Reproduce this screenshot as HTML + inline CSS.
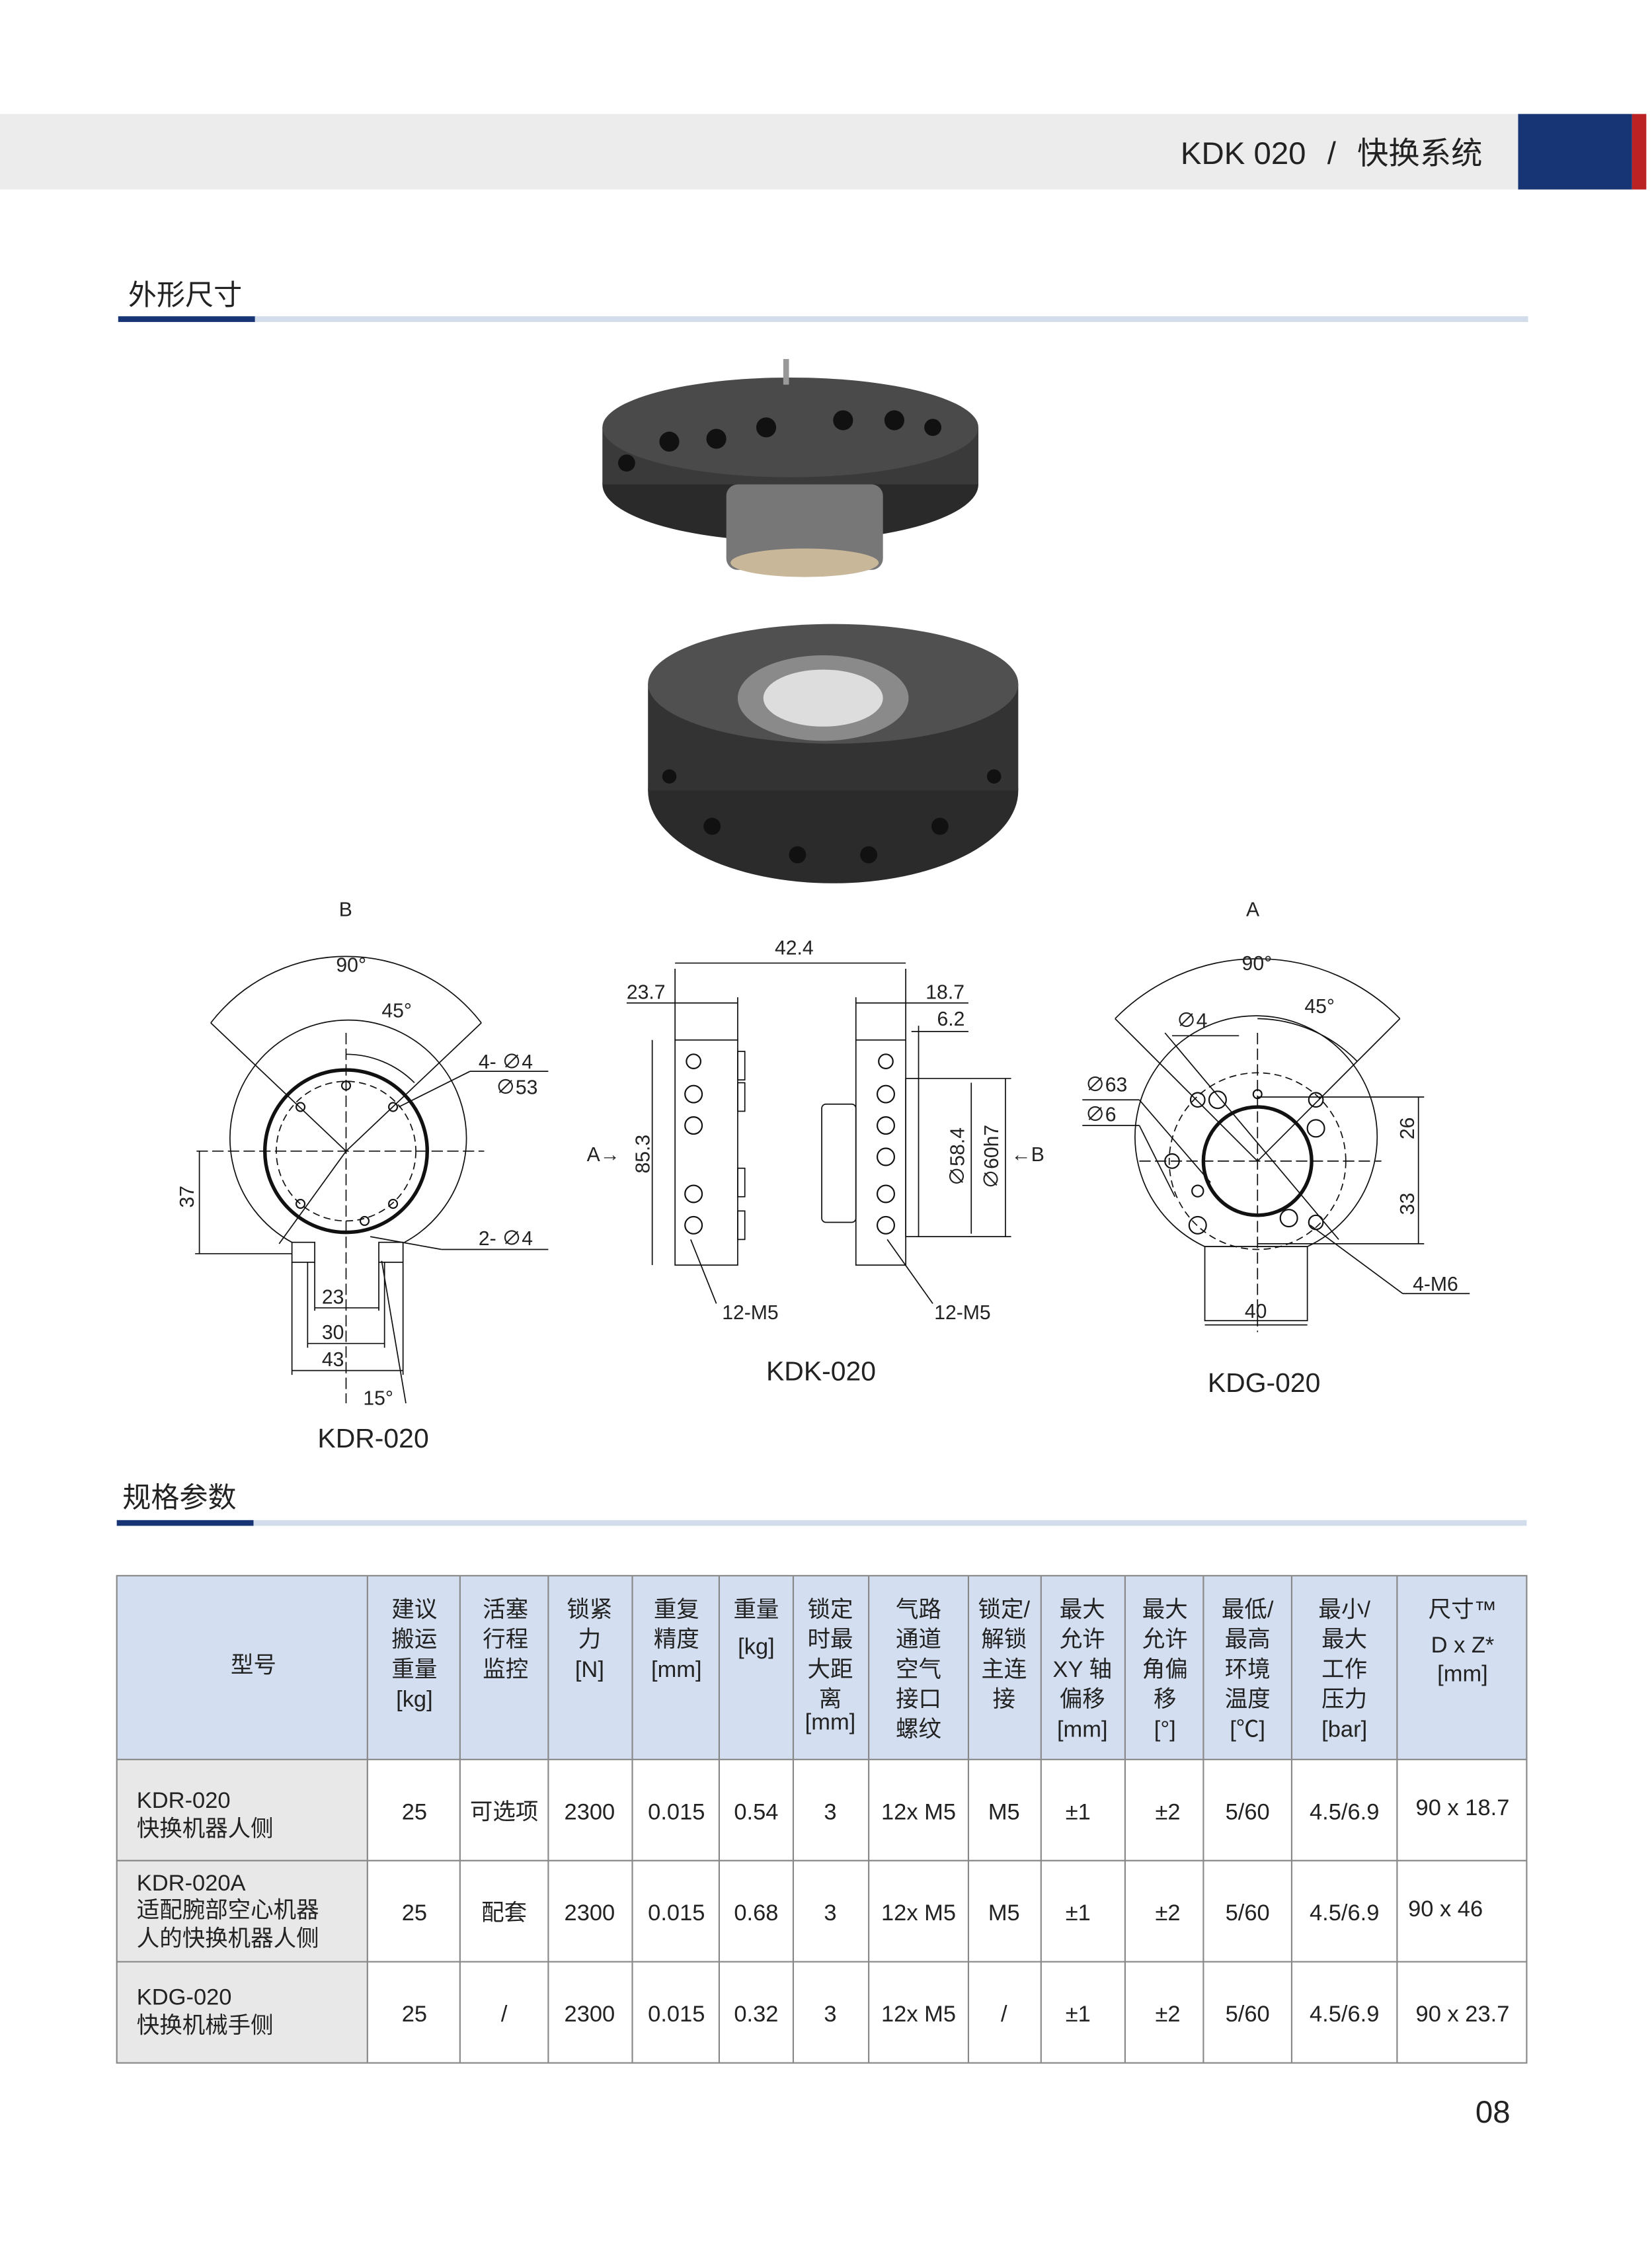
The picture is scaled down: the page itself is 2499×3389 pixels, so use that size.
<!DOCTYPE html>
<html><head><meta charset="utf-8">
<style>
html,body{margin:0;padding:0;background:#fff;}
svg{display:block;}
text{font-family:"Liberation Sans","Noto Sans CJK SC",sans-serif;fill:#222;}
</style></head><body>
<svg width="2499" height="3389" viewBox="0 0 1160 1573" preserveAspectRatio="none" xmlns="http://www.w3.org/2000/svg">
<rect width="1160" height="1573" fill="#fff"/>
<!-- header -->
<rect x="0" y="80" width="1066" height="53" fill="#ececec"/>
<rect x="1066" y="80" width="80" height="53" fill="#173574"/>
<rect x="1146" y="80" width="10" height="53" fill="#bb2224"/>
<text x="829" y="115" font-size="22">KDK 020</text>
<text x="932" y="115" font-size="22">/</text>
<text x="953" y="115" font-size="22">快换系统</text>
<!-- section 1 -->
<text x="90" y="214" font-size="20">外形尺寸</text>
<rect x="83" y="222" width="990" height="4" fill="#d3dcea"/>
<rect x="83" y="222" width="96" height="4" fill="#173574"/>
<!-- product images -->
<g>
<ellipse cx="555" cy="340" rx="132" ry="40" fill="#2a2a2a"/>
<rect x="423" y="300" width="264" height="40" fill="#3a3a3a"/>
<ellipse cx="555" cy="300" rx="132" ry="35" fill="#4a4a4a"/>
<rect x="510" y="340" width="110" height="60" rx="8" fill="#777"/>
<ellipse cx="565" cy="395" rx="52" ry="10" fill="#c9b79a"/>
<g fill="#111"><circle cx="470" cy="310" r="7"/><circle cx="503" cy="308" r="7"/><circle cx="538" cy="300" r="7"/><circle cx="592" cy="295" r="7"/><circle cx="628" cy="295" r="7"/><circle cx="655" cy="300" r="6"/><circle cx="440" cy="325" r="6"/></g>
<rect x="550" y="252" width="4" height="18" fill="#999"/>
<ellipse cx="585" cy="555" rx="130" ry="65" fill="#2b2b2b"/>
<rect x="455" y="480" width="260" height="75" fill="#333"/>
<ellipse cx="585" cy="480" rx="130" ry="42" fill="#505050"/>
<ellipse cx="578" cy="490" rx="60" ry="30" fill="#8a8a8a"/>
<ellipse cx="578" cy="490" rx="42" ry="20" fill="#ddd"/>
<g fill="#111"><circle cx="470" cy="545" r="5"/><circle cx="500" cy="580" r="6"/><circle cx="560" cy="600" r="6"/><circle cx="610" cy="600" r="6"/><circle cx="660" cy="580" r="6"/><circle cx="698" cy="545" r="5"/></g>
</g>
<!-- drawings -->
<g fill="none" stroke="#111" stroke-width="0.8">
<!-- KDR -->
<path d="M205 872 A83 83 0 1 1 284 872"/>
<circle cx="243" cy="808" r="57" stroke-width="2.5"/>
<circle cx="243" cy="808" r="49" stroke-dasharray="5 3"/>
<rect x="205" y="872" width="16" height="14"/><rect x="266" y="872" width="17" height="14"/>
<line x1="243" y1="725" x2="243" y2="985" stroke-dasharray="8 3"/>
<line x1="138" y1="808" x2="340" y2="808" stroke-dasharray="8 3"/>
<path d="M148 718 A120 120 0 0 1 338 718"/>
<path d="M243 740 A68 68 0 0 1 291 760"/>
<line x1="243" y1="808" x2="148" y2="718"/><line x1="243" y1="808" x2="338" y2="718"/>
<line x1="243" y1="808" x2="196" y2="873"/>
<line x1="280" y1="777" x2="330" y2="752"/><line x1="330" y1="752" x2="385" y2="752"/>
<line x1="260" y1="868" x2="310" y2="877"/><line x1="310" y1="877" x2="385" y2="877"/>
<line x1="140" y1="808" x2="140" y2="880"/><line x1="137" y1="880" x2="205" y2="880"/>
<line x1="205" y1="886" x2="205" y2="965"/><line x1="283" y1="886" x2="283" y2="965"/>
<line x1="216" y1="886" x2="216" y2="946"/><line x1="270" y1="886" x2="270" y2="946"/>
<line x1="221" y1="886" x2="221" y2="920"/><line x1="266" y1="886" x2="266" y2="920"/>
<line x1="221" y1="918" x2="266" y2="918"/><line x1="216" y1="943" x2="270" y2="943"/><line x1="205" y1="962" x2="283" y2="962"/>
<line x1="268" y1="885" x2="285" y2="985"/>
<!-- KDK -->
<rect x="474" y="730" width="44" height="158"/>
<rect x="518" y="738" width="5" height="20"/><rect x="518" y="760" width="5" height="20"/><rect x="518" y="820" width="5" height="20"/><rect x="518" y="850" width="5" height="20"/>
<rect x="601" y="730" width="35" height="158"/>
<rect x="636" y="757" width="9" height="111"/>
<rect x="577" y="775" width="24" height="83" rx="3"/>
<line x1="474" y1="680" x2="474" y2="730"/><line x1="636" y1="680" x2="636" y2="730"/>
<line x1="474" y1="676" x2="636" y2="676"/>
<line x1="440" y1="704" x2="518" y2="704"/><line x1="518" y1="700" x2="518" y2="730"/>
<line x1="601" y1="704" x2="680" y2="704"/><line x1="601" y1="700" x2="601" y2="730"/>
<line x1="640" y1="724" x2="680" y2="724"/><line x1="645" y1="720" x2="645" y2="757"/>
<line x1="458" y1="730" x2="458" y2="888"/>
<line x1="645" y1="757" x2="710" y2="757"/><line x1="645" y1="868" x2="710" y2="868"/>
<line x1="682" y1="760" x2="682" y2="866"/><line x1="706" y1="757" x2="706" y2="868"/>
<line x1="485" y1="870" x2="503" y2="915"/><line x1="623" y1="870" x2="655" y2="915"/>
<!-- KDG -->
<path d="M846 875 A85 85 0 1 1 918 875 Z"/>
<circle cx="883" cy="815" r="38" stroke-width="2.5"/>
<circle cx="883" cy="815" r="62" stroke-dasharray="5 3"/>
<rect x="846" y="875" width="72" height="52"/>
<line x1="883" y1="725" x2="883" y2="935" stroke-dasharray="8 3"/>
<line x1="800" y1="815" x2="970" y2="815" stroke-dasharray="8 3"/>
<path d="M783 715 A140 140 0 0 1 983 715"/>
<path d="M883 715 A100 100 0 0 1 953 745"/>
<line x1="883" y1="815" x2="783" y2="715"/><line x1="883" y1="815" x2="983" y2="715"/>
<line x1="818" y1="725" x2="940" y2="870"/>
<line x1="760" y1="772" x2="800" y2="772"/><line x1="760" y1="790" x2="800" y2="790"/>
<line x1="800" y1="772" x2="850" y2="830"/><line x1="800" y1="790" x2="825" y2="840"/>
<line x1="823" y1="727" x2="870" y2="727"/>
<line x1="883" y1="770" x2="1000" y2="770"/><line x1="883" y1="873" x2="1000" y2="873"/>
<line x1="996" y1="770" x2="996" y2="873"/>
<line x1="920" y1="860" x2="985" y2="908"/><line x1="985" y1="908" x2="1032" y2="908"/>
<line x1="846" y1="930" x2="918" y2="930"/>
</g>
<g fill="none" stroke="#111" stroke-width="1">
<circle cx="211" cy="777" r="3"/><circle cx="276" cy="777" r="3"/><circle cx="211" cy="845" r="3"/><circle cx="276" cy="845" r="3"/><circle cx="243" cy="762" r="3"/><circle cx="256" cy="857" r="3"/>
<circle cx="487" cy="745" r="5"/><circle cx="487" cy="768" r="6"/><circle cx="487" cy="790" r="6"/><circle cx="487" cy="838" r="6"/><circle cx="487" cy="860" r="6"/>
<circle cx="622" cy="745" r="5"/><circle cx="622" cy="768" r="6"/><circle cx="622" cy="790" r="6"/><circle cx="622" cy="812" r="6"/><circle cx="622" cy="838" r="6"/><circle cx="622" cy="860" r="6"/>
<circle cx="841" cy="772" r="5"/><circle cx="924" cy="772" r="5"/><circle cx="924" cy="792" r="6"/><circle cx="823" cy="815" r="5"/><circle cx="841" cy="860" r="6"/><circle cx="841" cy="836" r="4"/><circle cx="924" cy="858" r="5"/><circle cx="905" cy="855" r="6"/><circle cx="883" cy="768" r="3"/><circle cx="855" cy="772" r="6"/>
</g>
<g font-size="14">
<text x="238" y="643">B</text><text x="875" y="643">A</text>
<text x="236" y="682">90°</text><text x="268" y="714">45°</text>
<text x="336" y="750">4- ∅4</text><text x="348" y="768">∅53</text>
<text x="336" y="874">2- ∅4</text>
<text x="136" y="850" text-anchor="middle" transform="rotate(-90 131 845)">37</text>
<text x="226" y="915">23</text><text x="226" y="940">30</text><text x="226" y="959">43</text><text x="255" y="986">15°</text>
<text x="544" y="670">42.4</text><text x="440" y="701">23.7</text><text x="650" y="701">18.7</text><text x="658" y="720">6.2</text>
<text x="412" y="815">A→</text><text x="710" y="815">←B</text>
<text x="451" y="815" text-anchor="middle" transform="rotate(-90 451 810)">85.3</text>
<text x="672" y="817" text-anchor="middle" transform="rotate(-90 672 812)">∅58.4</text>
<text x="696" y="817" text-anchor="middle" transform="rotate(-90 696 812)">∅60h7</text>
<text x="507" y="926">12-M5</text><text x="656" y="926">12-M5</text>
<text x="872" y="681">90°</text><text x="916" y="711">45°</text>
<text x="826" y="721">∅4</text><text x="762" y="766">∅63</text><text x="762" y="787">∅6</text>
<text x="988" y="797" text-anchor="middle" transform="rotate(-90 988 792)">26</text>
<text x="988" y="850" text-anchor="middle" transform="rotate(-90 988 845)">33</text>
<text x="992" y="906">4-M6</text><text x="874" y="925">40</text>
</g>
<g font-size="19">
<text x="223" y="1016">KDR-020</text><text x="538" y="969">KDK-020</text><text x="848" y="977">KDG-020</text>
</g>
<!-- section 2 -->
<text x="86" y="1058" font-size="20">规格参数</text>
<rect x="82" y="1067" width="990" height="4" fill="#d3dcea"/>
<rect x="82" y="1067" width="96" height="4" fill="#173574"/>
<!-- table -->
<rect x="82" y="1106" width="990" height="129" fill="#d3dff0"/>
<rect x="82" y="1235" width="176" height="213" fill="#e8e8e8"/>
<g stroke="#888" stroke-width="1" fill="none">
<rect x="82" y="1106" width="990" height="342"/>
<line x1="82" y1="1235" x2="1072" y2="1235"/><line x1="82" y1="1306" x2="1072" y2="1306"/><line x1="82" y1="1377" x2="1072" y2="1377"/>
<line x1="258" y1="1106" x2="258" y2="1448"/><line x1="323" y1="1106" x2="323" y2="1448"/><line x1="385" y1="1106" x2="385" y2="1448"/><line x1="444" y1="1106" x2="444" y2="1448"/><line x1="505" y1="1106" x2="505" y2="1448"/><line x1="557" y1="1106" x2="557" y2="1448"/><line x1="610" y1="1106" x2="610" y2="1448"/><line x1="680" y1="1106" x2="680" y2="1448"/><line x1="731" y1="1106" x2="731" y2="1448"/><line x1="790" y1="1106" x2="790" y2="1448"/><line x1="845" y1="1106" x2="845" y2="1448"/><line x1="907" y1="1106" x2="907" y2="1448"/><line x1="981" y1="1106" x2="981" y2="1448"/>
</g>
<g font-size="16" text-anchor="middle">
<text x="178" y="1174">型号</text>
<text x="291" y="1135">建议</text><text x="291" y="1156">搬运</text><text x="291" y="1177">重量</text><text x="291" y="1198">[kg]</text>
<text x="355" y="1135">活塞</text><text x="355" y="1156">行程</text><text x="355" y="1177">监控</text>
<text x="414" y="1135">锁紧</text><text x="414" y="1156">力</text><text x="414" y="1177">[N]</text>
<text x="475" y="1135">重复</text><text x="475" y="1156">精度</text><text x="475" y="1177">[mm]</text>
<text x="531" y="1135">重量</text><text x="531" y="1161">[kg]</text>
<text x="583" y="1135">锁定</text><text x="583" y="1156">时最</text><text x="583" y="1177">大距</text><text x="583" y="1198">离</text><text x="583" y="1214">[mm]</text>
<text x="645" y="1135">气路</text><text x="645" y="1156">通道</text><text x="645" y="1177">空气</text><text x="645" y="1198">接口</text><text x="645" y="1219">螺纹</text>
<text x="705" y="1135">锁定/</text><text x="705" y="1156">解锁</text><text x="705" y="1177">主连</text><text x="705" y="1198">接</text>
<text x="760" y="1135">最大</text><text x="760" y="1156">允许</text><text x="760" y="1177">XY 轴</text><text x="760" y="1198">偏移</text><text x="760" y="1219">[mm]</text>
<text x="818" y="1135">最大</text><text x="818" y="1156">允许</text><text x="818" y="1177">角偏</text><text x="818" y="1198">移</text><text x="818" y="1219">[°]</text>
<text x="876" y="1135">最低/</text><text x="876" y="1156">最高</text><text x="876" y="1177">环境</text><text x="876" y="1198">温度</text><text x="876" y="1219">[℃]</text>
<text x="944" y="1135">最小/</text><text x="944" y="1156">最大</text><text x="944" y="1177">工作</text><text x="944" y="1198">压力</text><text x="944" y="1219">[bar]</text>
<text x="1027" y="1135">尺寸™</text><text x="1027" y="1160">D x Z*</text><text x="1027" y="1180">[mm]</text>
</g>
<g font-size="16" text-anchor="middle">
<g transform="translate(0,1277)"><text x="291">25</text><text x="354">可选项</text><text x="414">2300</text><text x="475">0.015</text><text x="531">0.54</text><text x="583">3</text><text x="645">12x M5</text><text x="705">M5</text><text x="757">±1</text><text x="820">±2</text><text x="876">5/60</text><text x="944">4.5/6.9</text><text x="1027" y="-3">90 x 18.7</text></g>
<g transform="translate(0,1348)"><text x="291">25</text><text x="354">配套</text><text x="414">2300</text><text x="475">0.015</text><text x="531">0.68</text><text x="583">3</text><text x="645">12x M5</text><text x="705">M5</text><text x="757">±1</text><text x="820">±2</text><text x="876">5/60</text><text x="944">4.5/6.9</text><text x="1015" y="-3">90 x 46</text></g>
<g transform="translate(0,1419)"><text x="291">25</text><text x="354">/</text><text x="414">2300</text><text x="475">0.015</text><text x="531">0.32</text><text x="583">3</text><text x="645">12x M5</text><text x="705">/</text><text x="757">±1</text><text x="820">±2</text><text x="876">5/60</text><text x="944">4.5/6.9</text><text x="1027">90 x 23.7</text></g>
</g>
<g font-size="16">
<text x="96" y="1269">KDR-020</text><text x="96" y="1289">快换机器人侧</text>
<text x="96" y="1327">KDR-020A</text><text x="96" y="1346">适配腕部空心机器</text><text x="96" y="1366">人的快换机器人侧</text>
<text x="96" y="1407">KDG-020</text><text x="96" y="1427">快换机械手侧</text>
</g>
<text x="1036" y="1490" font-size="22">08</text>
</svg>
</body></html>
